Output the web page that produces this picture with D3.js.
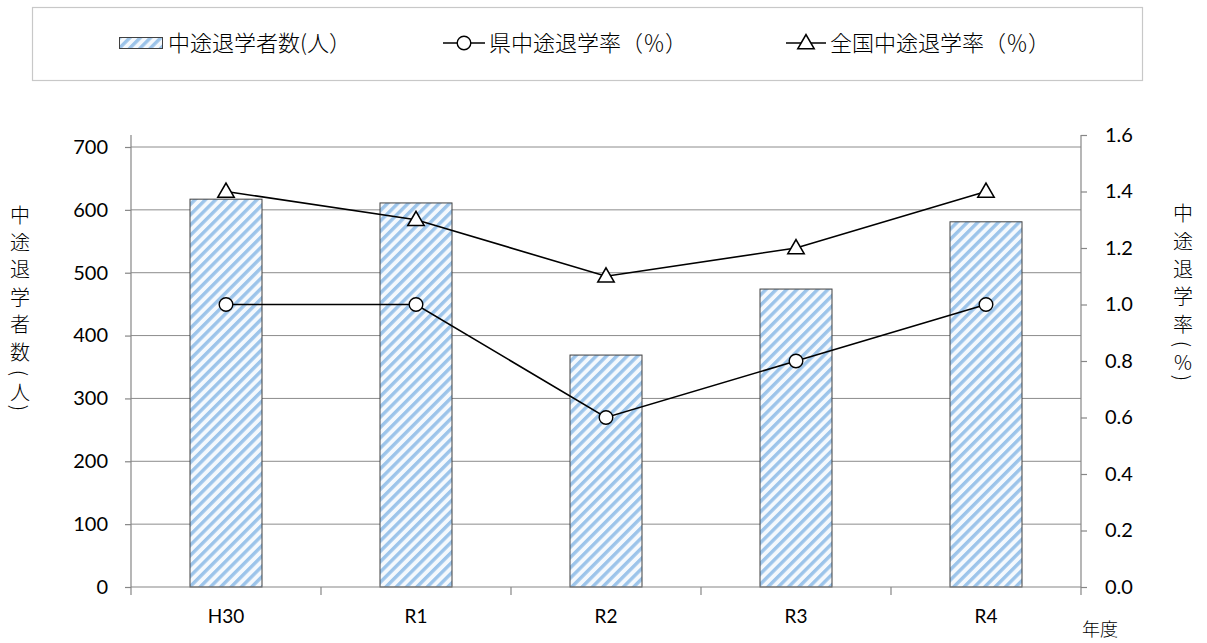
<!DOCTYPE html>
<html>
<head>
<meta charset="utf-8">
<script src="https://cdn.jsdelivr.net/npm/d3@7"></script>
<style>
  body { margin: 0; background: #fff; }
  svg text { font-family: "Noto Sans CJK JP", "Noto Sans", sans-serif; fill: #000; font-weight: 300; }
  .num { font-family: Lato, "Noto Sans", sans-serif; font-weight: 400; }
</style>
</head>
<body>
<svg id="chart" width="1207" height="643"></svg>
<script>
// Fiscal years and values
const years = ["H30", "R1", "R2", "R3", "R4"];
const dropouts = [617, 611, 369, 474, 581];          // 中途退学者数(人)
const prefRate = [1.0, 1.0, 0.6, 0.8, 1.0];          // 県中途退学率(%)
const nationalRate = [1.4, 1.3, 1.1, 1.2, 1.4];      // 全国中途退学率(%)
const leftTicks = [0, 100, 200, 300, 400, 500, 600, 700];
const rightTicks = [0, 0.2, 0.4, 0.6, 0.8, 1.0, 1.2, 1.4, 1.6];

const svg = d3.select("#chart");
const plot = { left: 131, right: 1081, top: 135, bottom: 587 };

// Hatched fill for the bars
const defs = svg.append("defs");
const pat = defs.append("pattern")
  .attr("id", "hatch")
  .attr("patternUnits", "userSpaceOnUse")
  .attr("width", 7.3).attr("height", 10)
  .attr("patternTransform", "rotate(45)");
pat.append("rect").attr("width", 7.3).attr("height", 10).attr("fill", "#f5f9fd");
pat.append("rect").attr("x", 0).attr("width", 3.4).attr("height", 10).attr("fill", "#9cc4ea");

const x = d3.scaleBand().domain(years).range([plot.left, plot.right]);
const yL = d3.scaleLinear().domain([0, 700]).range([plot.bottom, 147]);
const yR = d3.scaleLinear().domain([0, 1.6]).range([plot.bottom, plot.top]);

// Gridlines
svg.append("g").selectAll("line").data(leftTicks.filter(d => d > 0)).join("line")
  .attr("x1", plot.left).attr("x2", plot.right)
  .attr("y1", d => yL(d)).attr("y2", d => yL(d))
  .attr("stroke", "#8c8c8c").attr("stroke-width", 1);

// Bars
const barW = 72;
svg.append("g").selectAll("rect").data(years).join("rect")
  .attr("x", (d) => x(d) + x.bandwidth() / 2 - barW / 2)
  .attr("y", (d, i) => yL(dropouts[i]))
  .attr("width", barW)
  .attr("height", (d, i) => yL(0) - yL(dropouts[i]))
  .attr("fill", "url(#hatch)")
  .attr("stroke", "#404040").attr("stroke-width", 1);

// Left axis
const axisL = svg.append("g").attr("transform", `translate(${plot.left},0)`)
  .call(d3.axisLeft(yL).tickValues(leftTicks).tickSize(6).tickPadding(17).tickFormat(d3.format("d")));
axisL.select(".domain").attr("d", `M0,${plot.top}V${plot.bottom}`);

// Right axis
const axisR = svg.append("g").attr("transform", `translate(${plot.right},0)`)
  .call(d3.axisRight(yR).tickValues(rightTicks).tickSize(6).tickPadding(18).tickFormat(d3.format(".1f")));
axisR.select(".domain").attr("d", `M0,${plot.top}V${plot.bottom}`);

// Bottom axis with ticks on category boundaries
const axisB = svg.append("g").attr("transform", `translate(0,${plot.bottom})`)
  .call(d3.axisBottom(x).tickSize(0).tickPadding(23));
axisB.select(".domain").attr("d", `M${plot.left},0H${plot.right}`);
axisB.selectAll(".bound").data(d3.range(years.length + 1)).join("line")
  .attr("class", "bound")
  .attr("x1", i => plot.left + i * x.bandwidth()).attr("x2", i => plot.left + i * x.bandwidth())
  .attr("y1", 0).attr("y2", 8);

[axisL, axisR, axisB].forEach(a => {
  a.selectAll(".domain, line").attr("stroke", "#868686").attr("stroke-width", 1.2);
  a.selectAll("text").attr("class", "num").attr("font-size", 20).attr("fill", "#000");
});
axisB.selectAll("text").attr("font-size", 19);

// Line series
const cx = d => x(d) + x.bandwidth() / 2;
const line = d3.line().x((d, i) => cx(years[i])).y(d => yR(d));
svg.append("path").datum(nationalRate).attr("d", line)
  .attr("fill", "none").attr("stroke", "#000").attr("stroke-width", 1.6);
svg.append("path").datum(prefRate).attr("d", line)
  .attr("fill", "none").attr("stroke", "#000").attr("stroke-width", 1.6);

const tri = d3.symbol().type(d3.symbolTriangle).size(115);
svg.append("g").selectAll("path").data(nationalRate).join("path")
  .attr("transform", (d, i) => `translate(${cx(years[i])},${yR(d) + 1})`)
  .attr("d", tri).attr("fill", "#fff").attr("stroke", "#000").attr("stroke-width", 1.6);
svg.append("g").selectAll("circle").data(prefRate).join("circle")
  .attr("cx", (d, i) => cx(years[i])).attr("cy", d => yR(d)).attr("r", 6.8)
  .attr("fill", "#fff").attr("stroke", "#000").attr("stroke-width", 1.4);

// Axis titles, stacked one character per row; brackets are turned sideways
function verticalTitle(chars, xPos, ys) {
  svg.append("g").selectAll("text").data(chars).join("text")
    .attr("transform", (d, i) => `translate(${xPos},${ys[i]})` + (d === "(" || d === ")" ? " rotate(90)" : ""))
    .attr("text-anchor", "middle").attr("dominant-baseline", "central")
    .attr("font-size", 20).text(d => d);
}
verticalTitle(["中", "途", "退", "学", "者", "数", "(", "人", ")"], 20,
  [214, 241, 268, 296, 323, 351, 373, 391, 408]);
verticalTitle(["中", "途", "退", "学", "率", "(", "%", ")"], 1183,
  [212, 240, 268, 295, 323, 344, 361, 378]);
svg.append("text").attr("x", 1082).attr("y", 636).attr("font-size", 18).text("年度");

// Legend
svg.append("rect").attr("x", 32.5).attr("y", 7.5).attr("width", 1110).attr("height", 73)
  .attr("fill", "#fff").attr("stroke", "#c8c8c8").attr("stroke-width", 1.2);
const lg = svg.append("g");
lg.append("rect").attr("x", 119.5).attr("y", 37.5).attr("width", 43).attr("height", 11)
  .attr("fill", "url(#hatch)").attr("stroke", "#404040").attr("stroke-width", 1);
lg.append("text").attr("x", 168).attr("y", 51).attr("font-size", 22).text("中途退学者数(人）");

lg.append("line").attr("x1", 443).attr("x2", 485).attr("y1", 43).attr("y2", 43)
  .attr("stroke", "#000").attr("stroke-width", 1.6);
lg.append("circle").attr("cx", 464).attr("cy", 43).attr("r", 6.8)
  .attr("fill", "#fff").attr("stroke", "#000").attr("stroke-width", 1.4);
lg.append("text").attr("x", 489).attr("y", 51).attr("font-size", 22).text("県中途退学率（％）");

lg.append("line").attr("x1", 786).attr("x2", 826).attr("y1", 43).attr("y2", 43)
  .attr("stroke", "#000").attr("stroke-width", 1.6);
lg.append("path").attr("transform", "translate(806,44)").attr("d", tri)
  .attr("fill", "#fff").attr("stroke", "#000").attr("stroke-width", 1.6);
lg.append("text").attr("x", 830).attr("y", 51).attr("font-size", 22).text("全国中途退学率（％）");
</script>
</body>
</html>
